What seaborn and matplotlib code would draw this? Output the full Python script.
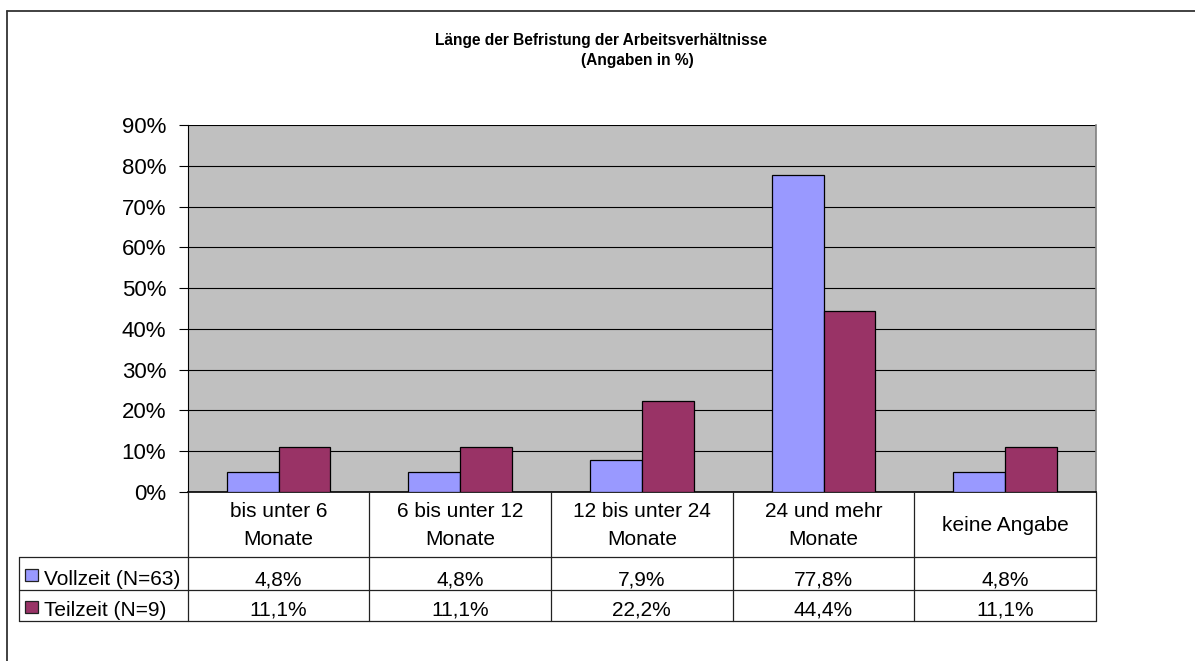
import matplotlib
matplotlib.use("Agg")
import matplotlib.pyplot as plt
import seaborn as sns
import pandas as pd
from matplotlib.lines import Line2D
from matplotlib.patches import Rectangle
from matplotlib.transforms import blended_transform_factory
from matplotlib import font_manager

# ---------------- data ----------------
categories = ["bis unter 6\nMonate", "6 bis unter 12\nMonate", "12 bis unter 24\nMonate",
              "24 und mehr\nMonate", "keine Angabe"]
series_names = ["Vollzeit (N=63)", "Teilzeit (N=9)"]
vollzeit = [4.8, 4.8, 7.9, 77.8, 4.8]
teilzeit = [11.1, 11.1, 22.2, 44.4, 11.1]
yticks = [0, 10, 20, 30, 40, 50, 60, 70, 80, 90]
ytick_labels = [f"{v}%" for v in yticks]
colors = ["#9999FF", "#993366"]
title_line1 = "Länge der Befristung der Arbeitsverhältnisse"
title_line2 = "(Angaben in %)"

# ---------------- style ----------------
sns.set_theme(style="white")
plt.rcParams["font.family"] = ["Liberation Sans", "DejaVu Sans"]

installed = {f.name for f in font_manager.fontManager.ttflist}
if "Liberation Sans Narrow" in installed:
    title_family = ["Liberation Sans Narrow", "DejaVu Sans"]
    title_size = 13
else:
    title_family = ["Liberation Sans", "DejaVu Sans"]
    title_size = 11.2

W, H = 1195, 661
fig = plt.figure(figsize=(W / 100, H / 100), dpi=100)
fig.patch.set_facecolor("white")


def fx(px):
    return px / W


def fy(py):
    return 1 - py / H


p_left, p_right, p_top, p_bottom = 187.7, 1096.0, 125.3, 491.7
ax = fig.add_axes([fx(p_left), fy(p_bottom), fx(p_right - p_left), (p_bottom - p_top) / H])
ax.set_facecolor("#C0C0C0")

df = pd.DataFrame({
    "Kategorie": categories * 2,
    "Serie": [series_names[0]] * len(categories) + [series_names[1]] * len(categories),
    "Wert": vollzeit + teilzeit,
})
sns.barplot(data=df, x="Kategorie", y="Wert", hue="Serie", order=categories,
            hue_order=series_names, palette=colors, saturation=1, width=0.5714,
            edgecolor="black", linewidth=0.9, ax=ax, legend=False, zorder=3)

ax.set_xlim(-0.5, len(categories) - 0.5)
ax.set_ylim(0, 90)
ax.set_yticks(yticks)
ax.set_yticklabels(ytick_labels, fontsize=16, color="black")
ax.set_xticks([])
ax.set_xlabel("")
ax.set_ylabel("")
ax.set_axisbelow(True)
ax.yaxis.grid(True, color="black", linewidth=0.8)
ax.tick_params(axis="y", direction="out", length=6.5, width=0.8, color="black", pad=9, left=True)
ax.spines["top"].set_visible(False)
ax.spines["right"].set_color("#808080")
ax.spines["right"].set_linewidth(1.2)
ax.spines["left"].set_color("black")
ax.spines["left"].set_linewidth(0.8)
ax.spines["bottom"].set_color("black")
ax.spines["bottom"].set_linewidth(1.2)

# ---------------- title ----------------
fig.text(fx(601), fy(45), title_line1, ha="center", va="baseline", fontsize=title_size,
         fontweight="bold", color="black", family=title_family)
fig.text(fx(637), fy(65.5), title_line2, ha="center", va="baseline", fontsize=title_size,
         fontweight="bold", color="black", family=title_family)

# ---------------- outer chart border ----------------
fig.add_artist(Line2D([fx(7), fx(W + 5)], [fy(11), fy(11)], color="#333333", linewidth=1.3))
fig.add_artist(Line2D([fx(7), fx(7)], [fy(11), fy(H + 5)], color="#333333", linewidth=1.3))

# ---------------- data table ----------------
trans = blended_transform_factory(ax.transData, fig.transFigure)
row_cat_bottom, row1_bottom, row2_bottom = 557.0, 590.0, 621.0
table_left = 19.0
line_col = "#222222"

for k in range(len(categories) + 1):
    xb = k - 0.5
    fig.add_artist(Line2D([xb, xb], [fy(p_bottom), fy(row2_bottom)], transform=trans,
                          color=line_col, linewidth=0.9))
fig.add_artist(Line2D([fx(table_left), fx(table_left)], [fy(row_cat_bottom), fy(row2_bottom)],
                      color=line_col, linewidth=0.9))
for yy in (row_cat_bottom, row1_bottom, row2_bottom):
    fig.add_artist(Line2D([fx(table_left), fx(p_right)], [fy(yy), fy(yy)],
                          color=line_col, linewidth=0.9))

cat_center = (p_bottom + row_cat_bottom) / 2
line_gap = 28.0
for i, cat in enumerate(categories):
    lines = cat.split("\n")
    n = len(lines)
    for j, ln in enumerate(lines):
        base = cat_center + 7 + (j - (n - 1) / 2) * line_gap
        ax.text(i, fy(base), ln, transform=trans, ha="center", va="baseline",
                fontsize=15, color="black")


def fmt(v):
    return f"{v:.1f}".replace(".", ",") + "%"


row_tops = [row_cat_bottom, row1_bottom]
row_bottoms = [row1_bottom, row2_bottom]
for s, (name, vals) in enumerate(zip(series_names, [vollzeit, teilzeit])):
    base = row_bottoms[s] - 5
    for i, v in enumerate(vals):
        ax.text(i, fy(base), fmt(v), transform=trans, ha="center", va="baseline",
                fontsize=15, color="black")
    cy = (row_tops[s] + row_bottoms[s]) / 2 + 1
    fig.add_artist(Rectangle((fx(25), fy(cy + 6)), fx(13), 12 / H, facecolor=colors[s],
                             edgecolor="#222222", linewidth=0.9))
    fig.text(fx(44), fy(base), name, ha="left", va="baseline", fontsize=15, color="black")

fig.savefig("out.png", dpi=100, facecolor="white")
